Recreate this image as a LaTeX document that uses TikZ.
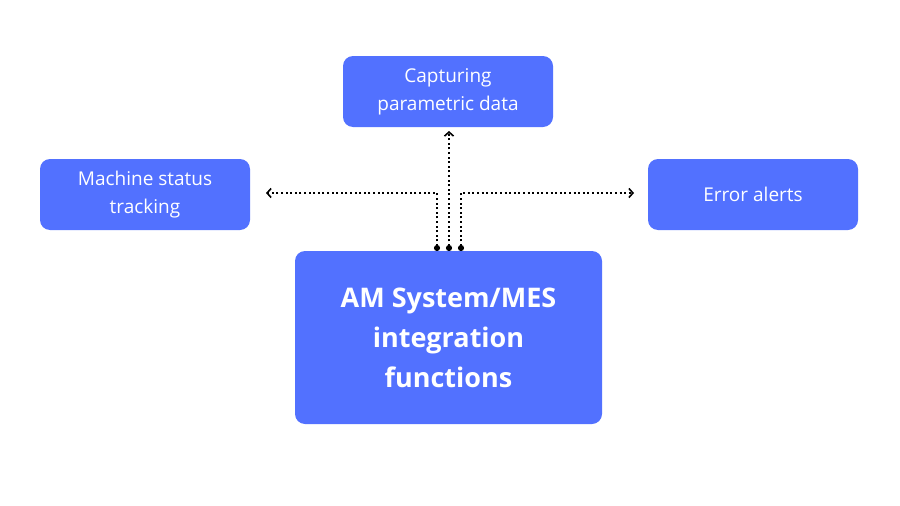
\documentclass[tikz,border=0pt]{standalone}
\usepackage{fontspec}
\setmainfont{Open Sans}
\usetikzlibrary{arrows.meta}
\definecolor{bx}{HTML}{5271FF}
\begin{document}
\begin{tikzpicture}[x=1pt,y=-1pt,
  box/.style={fill=bx,rounded corners=10pt,text=white,align=center,inner sep=0pt},
  conn/.style={black,line width=2pt,dash pattern=on 2pt off 2.6pt,{Circle[length=6pt,width=6pt]}-{Straight Barb[length=4pt,width=9pt,line width=1.6pt]}}]
\useasboundingbox (0,0) rectangle (900,506);
\node[box,minimum width=210pt,minimum height=71pt,font=\fontsize{19}{28}\selectfont] (cap) at (448,91.5) {Capturing\\parametric data};
\node[box,minimum width=210pt,minimum height=71pt,font=\fontsize{19}{28}\selectfont] (mach) at (145,194.5) {Machine status\\tracking};
\node[box,minimum width=210pt,minimum height=71pt,font=\fontsize{19}{28}\selectfont] (err) at (753,194.5) {Error alerts};
\node[box,minimum width=307pt,minimum height=173pt,font=\bfseries\fontsize{27}{40}\selectfont] (main) at (448.5,337.5) {AM System/MES\\integration\\functions};
\coordinate (s1) at (437,251);
\coordinate (s2) at (449,251);
\coordinate (s3) at (461,251);
\coordinate (tl) at (266,193);
\coordinate (tr) at (634,193);
\coordinate (tu) at (449,131);
\draw[conn] (s1) |- (tl);
\draw[conn] (s2) -- (tu);
\draw[conn] (s3) |- (tr);
\end{tikzpicture}
\end{document}
